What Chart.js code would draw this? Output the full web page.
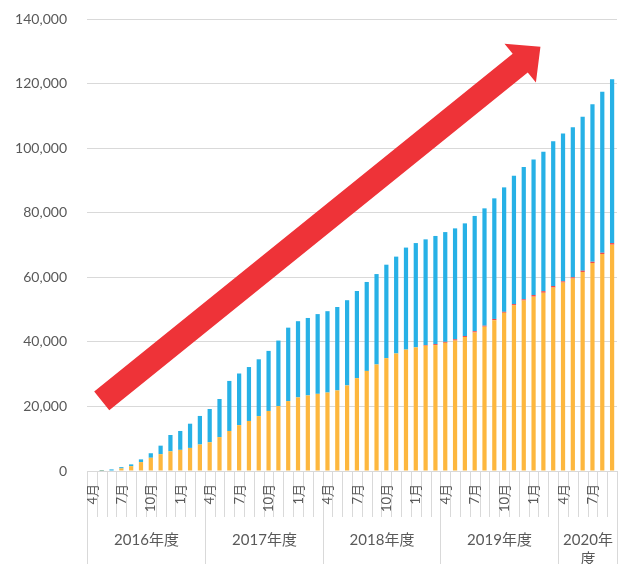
<!DOCTYPE html>
<html lang="ja">
<head>
<meta charset="utf-8">
<title>累計件数の推移</title>
<script src="https://cdn.jsdelivr.net/npm/chart.js@4.4.1/dist/chart.umd.min.js"></script>
<style>
  html, body { margin: 0; padding: 0; background: #fff; }
  #wrap { position: relative; width: 619px; height: 564px; }
</style>
</head>
<body>
<div id="wrap"><canvas id="trend"></canvas></div>
<script>
// 年度ごとの月（2020年度は9月まで）
const fiscalYears = ['2016年度', '2017年度', '2018年度', '2019年度', '2020年度'];
const monthsPerYear = [12, 12, 12, 12, 6];
const monthNames = ['4月', '5月', '6月', '7月', '8月', '9月', '10月', '11月', '12月', '1月', '2月', '3月'];
const shownMonths = ['4月', '7月', '10月', '1月'];

// 積み上げ値（下から 橙 → 赤 → 青）
const orangeValues = [
  0, 50, 150, 800, 1500, 2750, 4100, 5200, 6100, 6550, 7150, 8200,
  8900, 10500, 12400, 14200, 15500, 17000, 18600, 20100, 21650, 22800, 23400, 23900,
  24300, 24950, 26500, 28750, 31000, 33000, 34950, 36400, 37600, 38300, 38800, 39000,
  39700, 40400, 41500, 42900, 44700, 46700, 49000, 51300, 52800, 54000, 55200, 56800,
  58350, 59600, 61650, 64400, 67200, 70100
];
const redValues = [
  0, 0, 0, 0, 0, 0, 0, 0, 0, 0, 0, 0,
  0, 0, 0, 0, 0, 0, 0, 0, 0, 0, 0, 0,
  0, 0, 0, 0, 0, 0, 0, 0, 0, 0, 200, 300,
  300, 400, 300, 400, 300, 400, 300, 400, 400, 500, 500, 500,
  400, 400, 400, 400, 400, 500
];
const blueValues = [
  150, 200, 350, 400, 550, 850, 1400, 2650, 5050, 5850, 7500, 8850,
  10300, 11800, 15500, 16000, 16700, 17600, 18600, 20300, 22750, 23600, 24000, 24700,
  25200, 25850, 26400, 27000, 27550, 28000, 28950, 30000, 31600, 32300, 32750, 33500,
  34000, 34350, 34900, 35700, 36350, 37350, 38550, 39750, 40950, 42000, 43150, 44850,
  45800, 46500, 47650, 48800, 49850, 50750
];

// 縦軸目盛
const yMin = 0;
const yMax = 140000;
const yStep = 20000;

// 右上がりの矢印（カテゴリ位置と値で指定）
const arrowFrom = { x: 1.0, y: 21700 };
const arrowTo = { x: 45.7, y: 131400 };

const fontFamily = "Lato, 'Noto Sans CJK JP', sans-serif";
const textColor = '#595959';
const lineColor = '#d9d9d9';

// カテゴリ（月）と所属年度
const labels = [];
const yearOf = [];
monthsPerYear.forEach((count, y) => {
  for (let m = 0; m < count; m++) {
    labels.push(monthNames[m]);
    yearOf.push(y);
  }
});

// 月・年度の二段の項目軸
const categoryRows = {
  id: 'categoryRows',
  afterDraw(chart) {
    const { ctx, chartArea, scales: { x } } = chart;
    const top = chartArea.bottom;
    const bottom = chart.height;
    const half = (x.getPixelForValue(1) - x.getPixelForValue(0)) / 2;
    const edge = i => Math.round(x.getPixelForValue(i) - half) + 0.5;

    ctx.save();
    ctx.strokeStyle = lineColor;
    ctx.lineWidth = 1;
    ctx.beginPath();
    for (let i = 0; i <= labels.length; i++) {
      const px = edge(i);
      const isYearEdge = i === labels.length || i === 0 || yearOf[i] !== yearOf[i - 1];
      ctx.moveTo(px, top);
      ctx.lineTo(px, isYearEdge ? bottom : top + 46);
    }
    ctx.stroke();

    // 月ラベル（縦書き回転）
    ctx.fillStyle = textColor;
    ctx.font = '13px ' + fontFamily;
    ctx.textAlign = 'right';
    ctx.textBaseline = 'middle';
    labels.forEach((name, i) => {
      if (!shownMonths.includes(name)) return;
      ctx.save();
      ctx.translate(x.getPixelForValue(i) + 0.5, top + 13);
      ctx.rotate(-Math.PI / 2);
      ctx.fillText(name, 0, 0);
      ctx.restore();
    });

    // 年度ラベル（幅に収まらなければ折り返す）
    ctx.font = '15px ' + fontFamily;
    ctx.textAlign = 'center';
    let start = 0;
    fiscalYears.forEach((name, y) => {
      const end = start + monthsPerYear[y];
      const left = edge(start);
      const right = edge(end);
      const cx = (left + right) / 2;
      const lines = [];
      let cur = '';
      for (const ch of name) {
        if (cur && ctx.measureText(cur + ch).width > right - left - 4) {
          lines.push(cur);
          cur = ch;
        } else {
          cur += ch;
        }
      }
      lines.push(cur);
      lines.forEach((t, k) => ctx.fillText(t, cx, top + 69 + k * 19));
      start = end;
    });
    ctx.restore();
  }
};

// 矢印の描画
const trendArrow = {
  id: 'trendArrow',
  afterDatasetsDraw(chart) {
    const { ctx, scales: { x, y } } = chart;
    const tx = x.getPixelForValue(arrowFrom.x), ty = y.getPixelForValue(arrowFrom.y);
    const px = x.getPixelForValue(arrowTo.x), py = y.getPixelForValue(arrowTo.y);
    const len = Math.hypot(px - tx, py - ty);
    const ux = (px - tx) / len, uy = (py - ty) / len;
    const nx = -uy, ny = ux;
    const shaft = 12, head = 25, headLen = 26;
    const bx = px - ux * headLen, by = py - uy * headLen;

    ctx.save();
    ctx.fillStyle = '#ee3338';
    ctx.beginPath();
    ctx.moveTo(tx + nx * shaft, ty + ny * shaft);
    ctx.lineTo(bx + nx * shaft, by + ny * shaft);
    ctx.lineTo(bx + nx * head, by + ny * head);
    ctx.lineTo(px, py);
    ctx.lineTo(bx - nx * head, by - ny * head);
    ctx.lineTo(bx - nx * shaft, by - ny * shaft);
    ctx.lineTo(tx - nx * shaft, ty - ny * shaft);
    ctx.closePath();
    ctx.fill();
    ctx.restore();
  }
};

const barStyle = {
  barPercentage: 0.43,
  categoryPercentage: 1.0,
  borderWidth: 0
};

new Chart(document.getElementById('trend'), {
  type: 'bar',
  data: {
    labels: labels,
    datasets: [
      { label: '橙', data: orangeValues, backgroundColor: '#fdb73e', ...barStyle },
      { label: '赤', data: redValues, backgroundColor: '#f0474a', ...barStyle },
      { label: '青', data: blueValues, backgroundColor: '#27b1e6', ...barStyle }
    ]
  },
  options: {
    responsive: true,
    maintainAspectRatio: false,
    animation: false,
    layout: {
      padding: { top: 19, left: 15, right: 2, bottom: 93 }
    },
    plugins: {
      legend: { display: false },
      tooltip: { enabled: false }
    },
    scales: {
      x: {
        stacked: true,
        ticks: { display: false },
        grid: { display: false },
        border: { display: false },
        afterFit: scale => { scale.height = 0; }
      },
      y: {
        stacked: true,
        min: yMin,
        max: yMax,
        ticks: {
          stepSize: yStep,
          padding: 4,
          color: textColor,
          font: { family: fontFamily, size: 14 },
          callback: v => v.toLocaleString('en-US')
        },
        // 目盛線は見せずに、ラベルと描画領域の間隔だけ確保する
        grid: { color: lineColor, lineWidth: 1, drawTicks: true, tickLength: 16, tickColor: 'rgba(0,0,0,0)' },
        border: { display: false },
        afterFit: scale => { scale.width = 72; }
      }
    }
  },
  plugins: [categoryRows, trendArrow]
});
</script>
</body>
</html>
